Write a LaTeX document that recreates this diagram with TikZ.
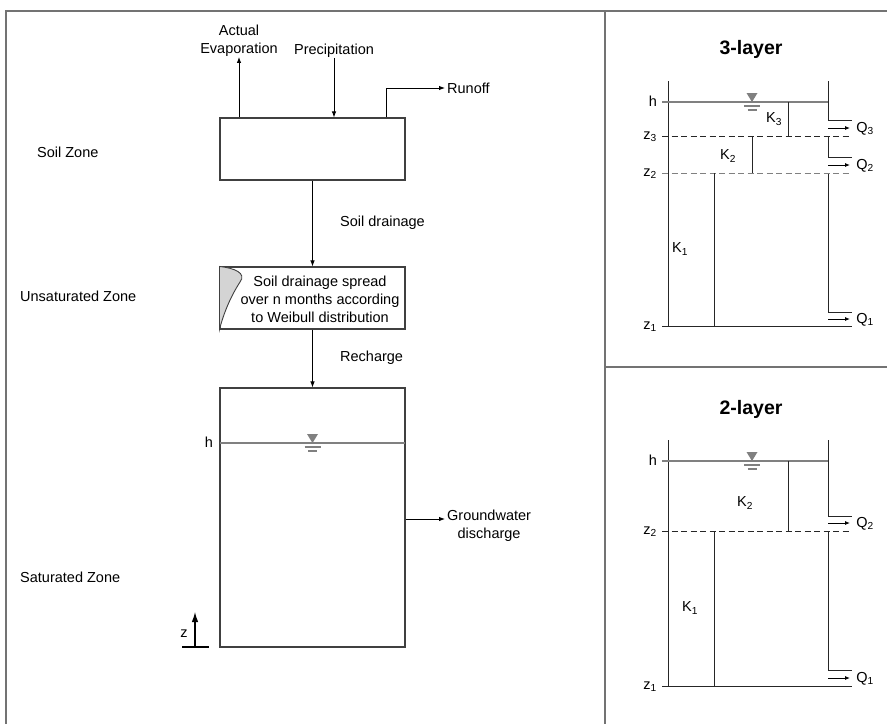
\documentclass[tikz,border=0pt]{standalone}
\usepackage{fontspec}
\setmainfont{Liberation Sans}
\usetikzlibrary{arrows.meta}
\definecolor{boxgray}{gray}{0.25}
\definecolor{framegray}{gray}{0.45}
\definecolor{wlgray}{gray}{0.5}
\begin{document}
\begin{tikzpicture}[x=1pt,y=-1pt,
  lbl/.style={font=\fontsize{14.5}{18}\selectfont, inner sep=0pt, text=black},
  ttl/.style={font=\fontsize{19.5}{22}\selectfont\bfseries, inner sep=0pt},
  box/.style={draw=boxgray, line width=1.1pt, fill=white, inner sep=0pt},
  arr/.style={-{Latex[length=6pt,width=4.5pt]}, line width=0.9pt},
  qarr/.style={-{Latex[length=5pt,width=4pt]}, line width=0.9pt},
  frame/.style={draw=framegray, line width=1.3pt},
  wall/.style={line width=1pt, draw=black!85},
  wline/.style={line width=1.3pt, draw=wlgray},
  zdash/.style={dash pattern=on 6pt off 3.5pt, line width=1pt},
  wlevel/.pic={
    \fill[wlgray] (-5.5,-9) -- (5.5,-9) -- (0,0) -- cycle;
    \draw[wlgray, line width=1.2pt] (-8,4) -- (8,4);
    \draw[wlgray, line width=1.2pt] (-4.5,8) -- (4.5,8);
  }
]
\useasboundingbox (0,0) rectangle (887,724);
% frame
\draw[frame] (6,724) -- (6,11) -- (887,11);
\draw[frame] (605,11) -- (605,724);
\draw[frame] (605,367) -- (887,367);

% ---------- left panel ----------
\node[box, minimum width=185pt, minimum height=62pt] (soil) at (312.5,149) {};
\node[box, minimum width=185pt, minimum height=62pt] (unsat) at (312.5,298) {};
\node[box, minimum width=185pt, minimum height=259pt] (sat) at (312.5,517.5) {};

\node[lbl, anchor=west] (sz) at (37,152) {Soil Zone};
\node[lbl, anchor=west] (uz) at (20,296) {Unsaturated Zone};
\node[lbl, anchor=west] (satz) at (20,577) {Saturated Zone};

\node[lbl, align=center] (evap) at (239,41) {Actual\\Evaporation};
\node[lbl] (prec) at (334,51) {Precipitation};
\node[lbl, anchor=west] (runoff) at (447,88) {Runoff};

\draw[arr] (evap.south |- soil.north) -- (evap.south);
\draw[arr] (prec.south) -- (prec.south |- soil.north);
\draw[arr, shorten >=2pt] ([xshift=73.5pt]soil.north) |- (runoff.west);

\node[lbl, anchor=west] (sdl) at (340,223) {Soil drainage};
\node[lbl, anchor=west] (rch) at (340,358) {Recharge};
\draw[arr] (soil.south) -- (unsat.north);
\draw[arr] (unsat.south) -- (sat.north);

% Weibull shape
\draw[draw=boxgray, fill=black!17, line width=0.9pt]
  (unsat.north west) .. controls (234,268) and (247,273) .. (240,282)
  .. controls (231,296) and (224,312) .. (unsat.south west) -- cycle;
\node[lbl, align=center] (unsatt) at (320,299) {Soil drainage spread\\over n months according\\to Weibull distribution};

% water level in saturated zone
\coordinate (shL) at (220,443);
\coordinate (shR) at (405,443);
\draw[wline] (shL) -- (shR);
\pic at (312.5,443) {wlevel};
\node[lbl] (sh) at (209,442) {h};

% groundwater discharge
\node[lbl, align=center, anchor=west] (gw) at (447,526) {Groundwater\\discharge};
\coordinate (gwa) at (445,519);
\draw[arr] (sat.east |- gwa) -- (gwa);

% z axis
\coordinate (zb) at (195,647);
\coordinate (zt) at (195,612);
\draw[line width=1.2pt] (182,647) -- (209,647);
\draw[-{Latex[length=10pt,width=6.5pt]}, line width=1.2pt] (zb) -- (zt);
\node[lbl] (zl) at (184,634) {z};

% ---------- 3-layer ----------
\node[ttl] (t3) at (751,49) {3-layer};
\draw[wall] (668,81) -- (668,326);
\draw[wall] (828,81) -- (828,120) -- (852,120);
\draw[wall] (828,136) -- (828,157) -- (852,157);
\draw[wall] (828,173) -- (828,312) -- (852,312);
\draw[wline] (662,102) -- (828,102);
\pic at (752,102) {wlevel};
\draw[zdash, black!85] (662,136) -- (852,136);
\draw[zdash, black!50] (662,173) -- (852,173);
\draw[wall] (662,326) -- (852,326);
\draw[wall] (788,102) -- (788,136);
\draw[wall] (752,136) -- (752,173);
\draw[wall] (714,173) -- (714,326);
\draw[qarr] (828,128) -- (850,128);
\draw[qarr] (828,165) -- (850,165);
\draw[qarr] (828,319) -- (850,319);
\node[lbl] (h3) at (653,101) {h};
\node[lbl] (z33) at (650,137) {z\textsubscript{3}};
\node[lbl] (z32) at (650,174) {z\textsubscript{2}};
\node[lbl] (z31) at (650,327) {z\textsubscript{1}};
\node[lbl] (k33) at (774,119) {K\textsubscript{3}};
\node[lbl] (k32) at (728,156) {K\textsubscript{2}};
\node[lbl] (k31) at (680,249) {K\textsubscript{1}};
\node[lbl] (q33) at (865,129) {Q\textsubscript{3}};
\node[lbl] (q32) at (865,166) {Q\textsubscript{2}};
\node[lbl] (q31) at (865,320) {Q\textsubscript{1}};

% ---------- 2-layer ----------
\node[ttl] (t2) at (751,409) {2-layer};
\draw[wall] (668,440) -- (668,686);
\draw[wall] (828,440) -- (828,516) -- (852,516);
\draw[wall] (828,531) -- (828,670) -- (852,670);
\draw[wline] (662,461) -- (828,461);
\pic at (752,461) {wlevel};
\draw[zdash, black!85] (662,531) -- (852,531);
\draw[wall] (662,686) -- (852,686);
\draw[wall] (788,461) -- (788,531);
\draw[wall] (714,531) -- (714,686);
\draw[qarr] (828,523) -- (850,523);
\draw[qarr] (828,678) -- (850,678);
\node[lbl] (h2) at (653,460) {h};
\node[lbl] (z22) at (650,532) {z\textsubscript{2}};
\node[lbl] (z21) at (650,687) {z\textsubscript{1}};
\node[lbl] (k22) at (745,503) {K\textsubscript{2}};
\node[lbl] (k21) at (690,608) {K\textsubscript{1}};
\node[lbl] (q22) at (865,524) {Q\textsubscript{2}};
\node[lbl] (q21) at (865,679) {Q\textsubscript{1}};
\end{tikzpicture}
\end{document}
